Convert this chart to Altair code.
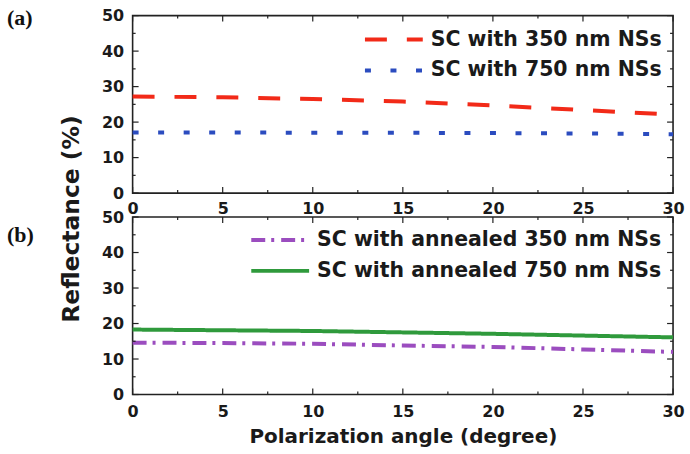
import altair as alt
import pandas as pd

# Polarization angle (degree) and reflectance (%) of each sample
angles = [0, 5, 10, 15, 20, 25, 30]
sc_350 = [27.2, 27.0, 26.5, 25.8, 24.7, 23.4, 22.1]
sc_750 = [17.1, 17.1, 17.0, 17.0, 16.9, 16.8, 16.6]
sc_ann_350 = [14.6, 14.5, 14.3, 13.8, 13.4, 12.7, 12.0]
sc_ann_750 = [18.3, 18.1, 17.9, 17.5, 17.1, 16.6, 16.1]

names_a = ["SC with 350 nm NSs", "SC with 750 nm NSs"]
names_b = ["SC with annealed 350 nm NSs", "SC with annealed 750 nm NSs"]

# tick positions
x_major = [0, 5, 10, 15, 20, 25, 30]
x_minor = [2.5, 7.5, 12.5, 17.5, 22.5, 27.5]
y_major = [0, 10, 20, 30, 40, 50]
y_minor = [5, 15, 25, 35, 45]

W, H = 542, 178
SANS = "DejaVu Sans"
SERIF = "Liberation Serif"
INK = "#222222"
TXT = "#1a1a1a"


def long_table(names, series):
    rows = []
    for name, vals in zip(names, series):
        for a, v in zip(angles, vals):
            rows.append({"angle": a, "value": v, "series": name})
    return pd.DataFrame(rows)


def panel(names, series, colors, dashes, lx, ly, tag, tag_y, x_title, x_pad):
    df = long_table(names, series)
    xscale = alt.Scale(domain=[0, 30], nice=False, zero=False)
    yscale = alt.Scale(domain=[0, 50], nice=False)
    xaxis = alt.Axis(values=x_major, ticks=False, tickSize=0, domain=False,
                     grid=False, labelFlush=False, labelFont=SANS,
                     labelFontSize=16, labelFontWeight="bold",
                     labelColor=TXT, labelPadding=x_pad,
                     title=x_title if x_title else "",
                     titleFont=SANS, titleFontSize=20,
                     titleFontWeight="bold", titleColor=TXT, titlePadding=7)
    yaxis = alt.Axis(values=y_major, ticks=False, tickSize=0, domain=False,
                     grid=False, labelFlush=False, labelFont=SANS,
                     labelFontSize=16, labelFontWeight="bold",
                     labelColor=TXT, labelPadding=9, title="")
    X = lambda: alt.X("angle:Q", scale=xscale, axis=xaxis)
    Y = lambda: alt.Y("value:Q", scale=yscale, axis=yaxis)

    leg = alt.Legend(
        orient="none", legendX=lx, legendY=ly, title=None,
        symbolType="stroke", symbolSize=3364, symbolStrokeWidth=4,
        labelFont=SANS, labelFontSize=20.5, labelFontWeight="bold",
        labelColor=TXT, labelOffset=6, labelLimit=600,
        clipHeight=20, rowPadding=10, padding=0)
    lines = alt.Chart(df).mark_line(strokeWidth=4).encode(
        x=X(), y=Y(),
        color=alt.Color("series:N", scale=alt.Scale(domain=names, range=colors),
                        legend=leg),
        strokeDash=alt.StrokeDash("series:N",
                                  scale=alt.Scale(domain=names, range=dashes),
                                  legend=leg),
        order=alt.Order("angle:Q"),
    )
    label = alt.Chart(pd.DataFrame({"t": [tag]})).mark_text(
        font=SERIF, fontSize=22, fontWeight="bold", align="left",
        baseline="middle", color="#111111").encode(
        text="t:N", x=alt.value(-126), y=alt.value(tag_y))

    # inward ticks on all four sides of the frame
    ticks = []
    for vals, length in ((x_major, 6), (x_minor, 3)):
        d = pd.DataFrame({"angle": vals})
        for y0, y1 in ((H, H - length), (0, length)):
            ticks.append(
                alt.Chart(d).mark_rule(color=INK, strokeWidth=1.2).encode(
                    x=X(), y=alt.value(y0), y2=alt.value(y1)))
    for vals, length in ((y_major, 6), (y_minor, 3)):
        d = pd.DataFrame({"value": vals})
        for x0, x1 in ((0, length), (W, W - length)):
            ticks.append(
                alt.Chart(d).mark_rule(color=INK, strokeWidth=1.2).encode(
                    y=Y(), x=alt.value(x0), x2=alt.value(x1)))
    return [lines, label] + ticks


top_layers = panel(
    names_a, [sc_350, sc_750], ["#f22a18", "#2b4cbf"],
    [[22, 20], [6, 19.6]], 231, 14, "(a)", 2, None, 7)

ytitle = alt.Chart(pd.DataFrame({"t": ["Reflectance (%)"]})).mark_text(
    font=SANS, fontSize=23.5, fontWeight="bold", angle=270,
    align="center", baseline="middle", color=TXT).encode(
    text="t:N", x=alt.value(-61), y=alt.value(204))

top = alt.layer(*top_layers, ytitle).properties(width=W, height=H)

bottom_layers = panel(
    names_b, [sc_ann_350, sc_ann_750], ["#9b4dbf", "#2f9a3c"],
    [[14, 6, 3, 7], [1, 0]], 117, 13, "(b)", 18,
    "Polarization angle (degree)", 9)
bottom = alt.layer(*bottom_layers).properties(width=W, height=H)

chart = (
    alt.vconcat(top, bottom, spacing=24, bounds="flush")
    .resolve_scale(color="independent", strokeDash="independent")
    .resolve_legend(color="independent", strokeDash="independent")
    .properties(padding={"left": 6, "top": 5, "right": 5, "bottom": 5},
                background="white")
    .configure_view(stroke=INK, strokeWidth=1.6)
)

chart.save("out.html", embed_options={"renderer": "svg", "actions": False})
